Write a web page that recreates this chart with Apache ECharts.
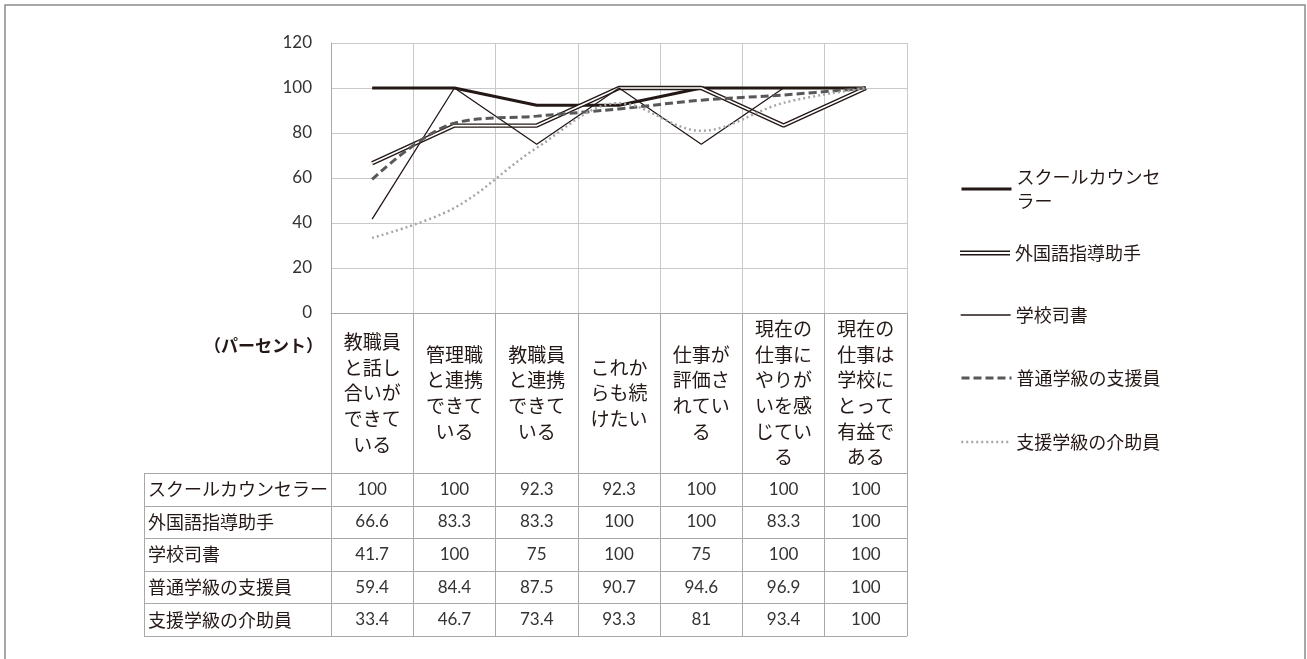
<!DOCTYPE html>
<html>
<head>
<meta charset="utf-8">
<script src="https://cdn.jsdelivr.net/npm/echarts@6/dist/echarts.min.js"></script>
<style>
  html, body { margin: 0; padding: 0; background: #fff; }
  #chart { width: 1307px; height: 659px; }
</style>
</head>
<body>
<div id="chart"></div>
<script>
// 項目（横軸）
const categories = [
  '教職員と話し合いができている',
  '管理職と連携できている',
  '教職員と連携できている',
  'これからも続けたい',
  '仕事が評価されている',
  '現在の仕事にやりがいを感じている',
  '現在の仕事は学校にとって有益である'
];

// 職種
const seriesNames = ['スクールカウンセラー', '外国語指導助手', '学校司書', '普通学級の支援員', '支援学級の介助員'];

// 各職種の回答率（パーセント）
const counselor         = [100, 100, 92.3, 92.3, 100, 100, 100];
const languageAssistant = [66.6, 83.3, 83.3, 100, 100, 83.3, 100];
const librarian         = [41.7, 100, 75, 100, 75, 100, 100];
const regularSupport    = [59.4, 84.4, 87.5, 90.7, 94.6, 96.9, 100];
const specialSupport    = [33.4, 46.7, 73.4, 93.3, 81, 93.4, 100];

// 縦軸の目盛り
const yMin = 0, yMax = 120, yStep = 20;
const unitLabel = '（パーセント）';

const tableRows = [counselor, languageAssistant, librarian, regularSupport, specialSupport];

// ---- styles / layout ----
const INK = '#231815';
const GRID = '#c9c9c9';
const RULE = '#a8a8a8';
const JP = '"Noto Sans CJK JP", "Noto Sans", sans-serif';
const NUM = 'Lato, "Noto Sans", sans-serif';

const HEADER_H = 160;   // category label band under the plot
const ROW_H = 32.6;     // data table row height
const TABLE_LEFT = 144;

// line look of each series (outer stroke for the double rule)
const lineLooks = [
  { color: INK, width: 3, type: 'solid' },
  { color: INK, width: 4.4, type: 'solid' },
  { color: INK, width: 1.3, type: 'solid' },
  { color: '#595757', width: 3, type: [8, 4] },
  { color: '#a6a6a6', width: 2.5, type: [2, 3] }
];

// wrap a label every 3 characters
const wrap3 = s => (s.match(/.{1,3}/g) || []).join('\n');

const DOUBLE_ICON = 'path://M0,0H50V1.4H0Z M0,3.4H50V4.8H0Z';

const chart = echarts.init(document.getElementById('chart'), null, { renderer: 'canvas' });

// one legend block per entry, stacked on the right
const legendIconCenters = [189, 253, 315, 378, 442];
const legends = seriesNames.map((name, i) => {
  const first = i === 0;
  const legend = {
    orient: 'vertical',
    left: 960,
    top: first ? legendIconCenters[i] - 36 : legendIconCenters[i] - 12,
    padding: 0,
    itemWidth: 50,
    itemHeight: 14,
    selectedMode: false,
    data: [i === 1 ? { name, icon: DOUBLE_ICON } : name],
    formatter: n => (first ? n.slice(0, 8) + '\n' + n.slice(8) : n),
    textStyle: {
      fontFamily: JP, fontSize: 18, color: INK, lineHeight: 24,
      padding: first ? [24, 0, 0, 0] : 0
    }
  };
  if (i !== 1) {
    // plain line sample only, no marker dot
    legend.itemStyle = { opacity: 0 };
    legend.lineStyle = { color: lineLooks[i].color, width: lineLooks[i].width, type: lineLooks[i].type };
  }
  return legend;
});

const option = {
  animation: false,
  backgroundColor: '#fff',
  grid: { left: 331, right: 400, top: 43, bottom: 346, containLabel: false },
  legend: legends,
  xAxis: {
    type: 'category',
    data: categories,
    boundaryGap: true,
    axisLine: { show: true, lineStyle: { color: RULE, width: 1 } },
    axisTick: {
      show: true, inside: false, interval: 0,
      length: HEADER_H + ROW_H * tableRows.length,
      lineStyle: { color: RULE, width: 1 }
    },
    splitLine: { show: true, interval: 0, lineStyle: { color: GRID, width: 1 } },
    axisLabel: {
      interval: 0,
      margin: HEADER_H / 2,
      verticalAlign: 'middle',
      align: 'center',
      lineHeight: 25.7,
      fontFamily: JP,
      fontSize: 19,
      color: INK,
      formatter: v => wrap3(v)
    }
  },
  yAxis: {
    type: 'value',
    min: yMin, max: yMax, interval: yStep,
    axisLine: { show: true, lineStyle: { color: RULE, width: 1 } },
    axisTick: { show: false },
    splitLine: { show: true, lineStyle: { color: GRID, width: 1 } },
    axisLabel: { margin: 19, fontFamily: NUM, fontSize: 17, color: '#333' }
  },
  series: [
    {
      name: seriesNames[0], type: 'line', data: counselor,
      symbol: 'none', color: lineLooks[0].color,
      lineStyle: lineLooks[0]
    },
    {
      name: seriesNames[1], type: 'line', data: languageAssistant,
      symbol: 'none', color: lineLooks[1].color,
      lineStyle: lineLooks[1]
    },
    {
      // white core that turns the line above into a double rule
      name: 'languageAssistantCore', type: 'line', data: languageAssistant,
      symbol: 'none', color: '#fff', silent: true,
      lineStyle: { color: '#fff', width: 1.6 }
    },
    {
      name: seriesNames[2], type: 'line', data: librarian,
      symbol: 'none', color: lineLooks[2].color,
      lineStyle: lineLooks[2]
    },
    {
      name: seriesNames[3], type: 'line', data: regularSupport,
      symbol: 'none', smooth: 0.35, color: lineLooks[3].color,
      lineStyle: lineLooks[3]
    },
    {
      name: seriesNames[4], type: 'line', data: specialSupport,
      symbol: 'none', smooth: 0.35, color: lineLooks[4].color,
      lineStyle: lineLooks[4]
    }
  ]
};

chart.setOption(option);

// data table and frame, placed from the axes' own pixel scale
const xs = categories.map((c, i) => chart.convertToPixel({ xAxisIndex: 0 }, i));
const y0 = chart.convertToPixel({ yAxisIndex: 0 }, yMin);
const bandW = xs[1] - xs[0];
const rightX = xs[xs.length - 1] + bandW / 2;
const tableTop = y0 + HEADER_H;
const tableBottom = tableTop + ROW_H * tableRows.length;

const graphics = [];

// outer frame
graphics.push({
  type: 'rect', silent: true,
  shape: { x: 5, y: 5, width: 1300, height: 720 },
  style: { fill: 'none', stroke: '#8c8c8c', lineWidth: 1.5 }
});

// unit caption
graphics.push({
  type: 'text', silent: true,
  x: xs[0] - bandW / 2 - 8, y: y0 + 33,
  style: {
    text: unitLabel, align: 'right', verticalAlign: 'middle',
    font: 'bold 17px ' + JP, fill: INK
  }
});

// horizontal rules of the table
for (let k = 0; k <= tableRows.length; k++) {
  const y = Math.round(tableTop + k * ROW_H) + 0.5;
  graphics.push({
    type: 'line', silent: true,
    shape: { x1: TABLE_LEFT, y1: y, x2: rightX, y2: y },
    style: { stroke: RULE, lineWidth: 1 }
  });
}
// left edge of the row-label column
graphics.push({
  type: 'line', silent: true,
  shape: { x1: TABLE_LEFT + 0.5, y1: tableTop, x2: TABLE_LEFT + 0.5, y2: tableBottom },
  style: { stroke: RULE, lineWidth: 1 }
});

tableRows.forEach((row, r) => {
  const cy = tableTop + (r + 0.5) * ROW_H;
  graphics.push({
    type: 'text', silent: true,
    x: TABLE_LEFT + 4, y: cy,
    style: { text: seriesNames[r], align: 'left', verticalAlign: 'middle', font: '18px ' + JP, fill: INK }
  });
  row.forEach((v, j) => {
    graphics.push({
      type: 'text', silent: true,
      x: xs[j], y: cy,
      style: { text: String(v), align: 'center', verticalAlign: 'middle', font: '17px ' + NUM, fill: '#333' }
    });
  });
});

chart.setOption({ graphic: graphics });
</script>
</body>
</html>
